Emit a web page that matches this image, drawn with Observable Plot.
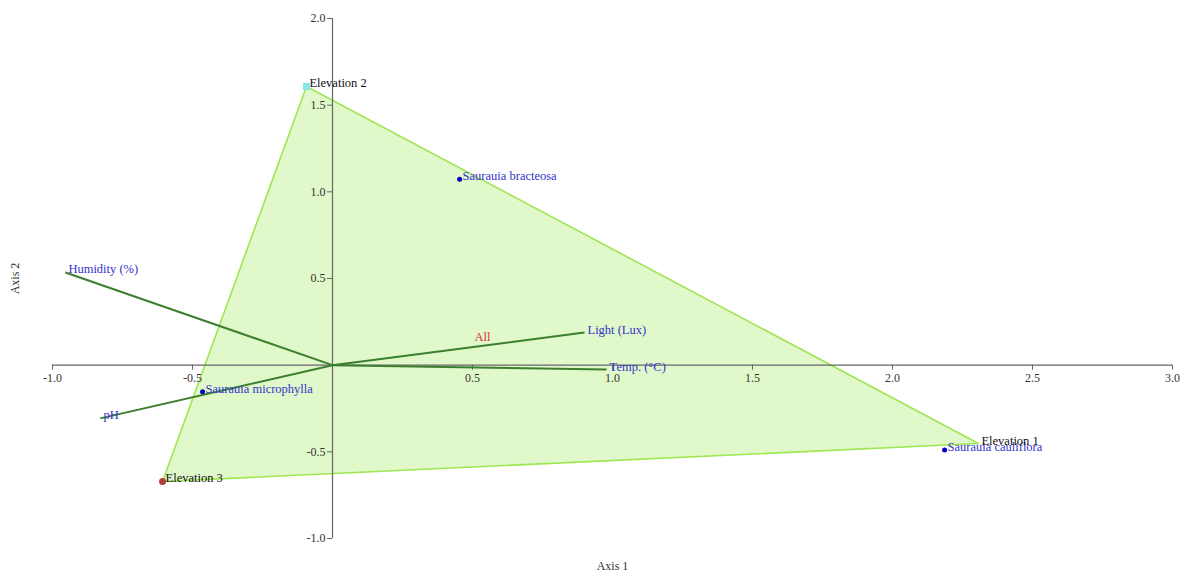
<!DOCTYPE html>
<html>
<head>
<meta charset="utf-8">
<script src="https://cdn.jsdelivr.net/npm/d3@7"></script>
<script src="https://cdn.jsdelivr.net/npm/@observablehq/plot@0.6"></script>
<style>
  html, body { margin: 0; padding: 0; background: #fff; }
  #chart svg { display: block; }
</style>
</head>
<body>
<div id="chart"></div>
<script>
// Sites (elevations) – ordination scores
const sites = ["Elevation 1", "Elevation 2", "Elevation 3"];
const siteX = [2.307, -0.093, -0.607];
const siteY = [-0.452, 1.608, -0.671];

// Species scores
const species = ["Saurauia bracteosa", "Saurauia microphylla", "Saurauia cauliflora"];
const speciesX = [0.454, -0.464, 2.186];
const speciesY = [1.072, -0.153, -0.49];

// Environmental variable vectors
const variables = ["Humidity (%)", "pH", "Light (Lux)", "Temp. (°C)"];
const varX = [-0.954, -0.829, 0.900, 0.979];
const varY = [0.535, -0.307, 0.188, -0.025];

// Group label
const groups = ["All"];
const groupX = [0.536];
const groupY = [0.16];

// Axis ticks
const xTicks = [-1.0, -0.5, 0.5, 1.0, 1.5, 2.0, 2.5, 3.0];
const yTicks = [-1.0, -0.5, 0.5, 1.0, 1.5, 2.0];

const siteData = sites.map((s, i) => ({name: s, x: siteX[i], y: siteY[i]}));
const speciesData = species.map((s, i) => ({name: s, x: speciesX[i], y: speciesY[i]}));
const varData = variables.map((s, i) => ({name: s, x: varX[i], y: varY[i]}));
const groupData = groups.map((s, i) => ({name: s, x: groupX[i], y: groupY[i]}));
const hull = [siteData[1], siteData[0], siteData[2]];

const labelFont = 12.5;

const plot = Plot.plot({
  width: 1187,
  height: 572,
  marginLeft: 52,
  marginRight: 15,
  marginTop: 18,
  marginBottom: 34,
  x: {domain: [-1, 3], axis: null},
  y: {domain: [-1, 2], axis: null},
  style: {fontFamily: "'Liberation Serif', 'Times New Roman', serif", fontSize: "12px", background: "#fff"},
  marks: [
    // hull polygon
    Plot.line(hull, {x: "x", y: "y", curve: "linear-closed", fill: "#e0f8ca", stroke: "#9fe653", strokeWidth: 1.6}),
    // axes lines
    Plot.ruleY([0], {x1: -1, x2: 3, stroke: "#666", strokeWidth: 1.2}),
    Plot.ruleX([0], {y1: -1, y2: 2, stroke: "#666", strokeWidth: 1.2}),
    // tick marks
    Plot.ruleX(xTicks, {x: d => d, y1: 0, y2: 0, insetBottom: -5, stroke: "#666"}),
    Plot.ruleY(yTicks, {y: d => d, x1: 0, x2: 0, insetLeft: -5, stroke: "#666"}),
    // tick labels
    Plot.text(xTicks, {x: d => d, y: 0, text: d => d.toFixed(1), dy: 13, fill: "#333", lineAnchor: "middle"}),
    Plot.text(yTicks, {x: 0, y: d => d, text: d => d.toFixed(1), dx: -7, textAnchor: "end", fill: "#333", lineAnchor: "middle"}),
    // variable vectors
    Plot.link(varData, {x1: 0, y1: 0, x2: "x", y2: "y", stroke: "#3b7f2f", strokeWidth: 2}),
    Plot.text(varData, {x: "x", y: "y", text: "name", textAnchor: "start", dx: 3, dy: -3, fill: "#3333cc", fontSize: labelFont}),
    // species
    Plot.dot(speciesData, {x: "x", y: "y", r: 2.5, fill: "#0000bb"}),
    Plot.text(speciesData, {x: "x", y: "y", text: "name", textAnchor: "start", dx: 3, dy: -3, fill: "#3333cc", fontSize: labelFont}),
    // sites
    Plot.dot([siteData[1]], {x: "x", y: "y", symbol: "square", r: 4, fill: "#88e6e6"}),
    Plot.dot([siteData[2]], {x: "x", y: "y", r: 3.5, fill: "#b23f35"}),
    Plot.text(siteData, {x: "x", y: "y", text: "name", textAnchor: "start", dx: 3, dy: -3, fill: "#111", fontSize: labelFont}),
    // group label
    Plot.text(groupData, {x: "x", y: "y", text: "name", fill: "#e0302a", fontSize: labelFont}),
    // axis titles
    Plot.text(["Axis 1"], {frameAnchor: "bottom", dy: 28, lineAnchor: "middle", textAnchor: "middle", fill: "#333"}),
    Plot.text(["Axis 2"], {frameAnchor: "left", dx: -37, rotate: -90, textAnchor: "middle", lineAnchor: "middle", fill: "#333"})
  ]
});
document.getElementById("chart").appendChild(plot);
</script>
</body>
</html>
